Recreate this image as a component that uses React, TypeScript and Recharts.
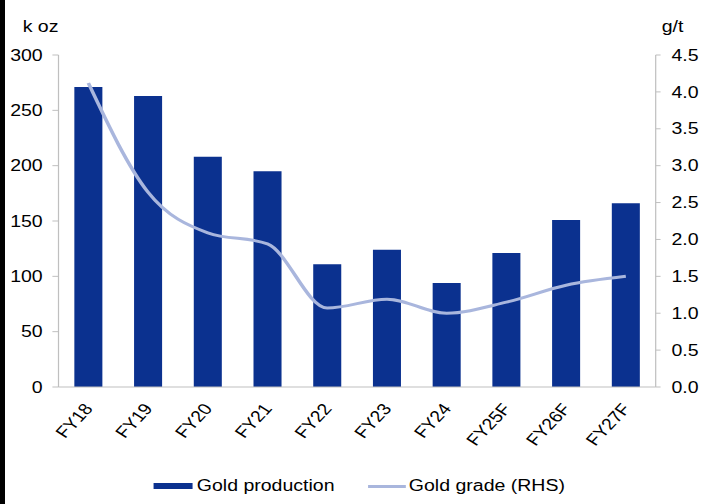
import React from 'react';
import { ComposedChart, Bar, Line, XAxis, YAxis, Legend, Label } from 'recharts';

const categories = ['FY18', 'FY19', 'FY20', 'FY21', 'FY22', 'FY23', 'FY24', 'FY25F', 'FY26F', 'FY27F'];
const goldProduction = [271, 263, 208, 195, 111, 124, 94, 121, 151, 166];
const goldGrade = [4.12, 2.64, 2.09, 1.94, 1.07, 1.19, 1.0, 1.15, 1.38, 1.5];
const leftTicks = [0, 50, 100, 150, 200, 250, 300];
const rightTicks = [0, 0.5, 1.0, 1.5, 2.0, 2.5, 3.0, 3.5, 4.0, 4.5];

const data = categories.map((c, i) => ({ cat: c, prod: goldProduction[i], grade: goldGrade[i] }));

const FONT = '"Liberation Sans", Arial, sans-serif';
const BAR_COLOR = '#0B318F';
const LINE_COLOR = '#A9B6DD';
const AXIS_COLOR = '#BFBFBF';

const INNER_W = 576;
const H = 504;
const SCALE = 702 / INNER_W;

const LegendContent = () => (
  <div style={{ display: 'flex', alignItems: 'center', height: 30, fontFamily: FONT, fontSize: 16, color: '#000' }}>
    <div style={{ marginLeft: 125.5, width: 32, height: 6, background: BAR_COLOR }} />
    <span style={{ marginLeft: 4, whiteSpace: 'nowrap' }}>Gold production</span>
    <div style={{ marginLeft: 27.5, width: 31, height: 3, background: LINE_COLOR }} />
    <span style={{ marginLeft: 2.5, whiteSpace: 'nowrap' }}>Gold grade (RHS)</span>
  </div>
);

export default function App() {
  return (
    <div style={{ position: 'absolute', left: 0, top: 0, width: 702, height: H, background: '#fff', overflow: 'hidden' }}>
      <div
        style={{
          position: 'absolute',
          left: 0,
          top: 0,
          width: INNER_W,
          height: H,
          transform: `scaleX(${SCALE})`,
          transformOrigin: 'left top',
        }}
      >
        <ComposedChart
          width={INNER_W}
          height={H}
          data={data}
          margin={{ top: 55, right: 0, bottom: 3, left: 0 }}
          barCategoryGap="0%"
        >
          <XAxis
            dataKey="cat"
            xAxisId="x"
            height={84}
            tick={{
              angle: -52,
              textAnchor: 'end',
              dx: -4.5,
              fontFamily: FONT,
              fontSize: 16,
              fill: '#000',
            } as any}
            tickLine={false}
            tickSize={0}
            tickMargin={15}
            axisLine={{ stroke: AXIS_COLOR, strokeWidth: 1 }}
            interval={0}
          />
          <YAxis
            yAxisId="left"
            orientation="left"
            width={48}
            domain={[0, 300]}
            ticks={leftTicks}
            tickSize={5}
            tickMargin={8}
            axisLine={{ stroke: AXIS_COLOR, strokeWidth: 1 }}
            tickLine={{ stroke: AXIS_COLOR, strokeWidth: 1 }}
            tick={{ fontFamily: FONT, fontSize: 16, fill: '#000' }}
          >
            <Label
              content={(p: any) => {
                const vb = p.viewBox || { x: 0, y: 55 };
                return (
                  <text x={vb.x + 18.6} y={vb.y - 23.3} fontFamily={FONT} fontSize={16} fill="#000">
                    k oz
                  </text>
                );
              }}
            />
          </YAxis>
          <YAxis
            yAxisId="right"
            orientation="right"
            width={38}
            domain={[0, 4.5]}
            ticks={rightTicks}
            tickFormatter={(v: number) => v.toFixed(1)}
            tickSize={4}
            tickMargin={9}
            axisLine={{ stroke: AXIS_COLOR, strokeWidth: 1 }}
            tickLine={{ stroke: AXIS_COLOR, strokeWidth: 1 }}
            tick={{ fontFamily: FONT, fontSize: 16, fill: '#000' }}
          >
            <Label
              content={(p: any) => {
                const vb = p.viewBox || { x: 538, y: 55 };
                return (
                  <text x={vb.x + 5} y={vb.y - 23.3} fontFamily={FONT} fontSize={16} fill="#000">
                    g/t
                  </text>
                );
              }}
            />
          </YAxis>
          <Legend verticalAlign="bottom" height={30} content={<LegendContent />} />
          <Bar
            dataKey="prod"
            name="Gold production"
            xAxisId="x"
            yAxisId="left"
            fill={BAR_COLOR}
            barSize={23}
            isAnimationActive={false}
          />
          <Line
            dataKey="grade"
            name="Gold grade (RHS)"
            xAxisId="x"
            yAxisId="right"
            type="monotone"
            stroke={LINE_COLOR}
            strokeWidth={3}
            dot={false}
            activeDot={false}
            isAnimationActive={false}
          />
        </ComposedChart>
      </div>
      <div style={{ position: 'absolute', left: 0, top: 0, width: 5, height: H, background: '#000' }} />
    </div>
  );
}
